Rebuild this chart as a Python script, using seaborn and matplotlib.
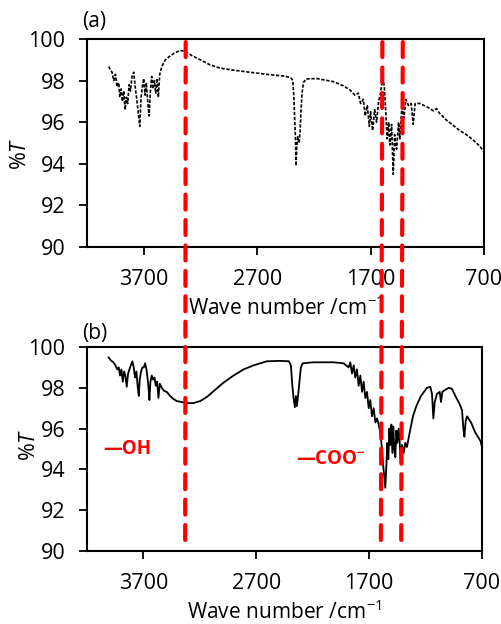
import numpy as np
import pandas as pd
import matplotlib
matplotlib.use("Agg")
import matplotlib.pyplot as plt
from matplotlib.patches import ConnectionPatch
import seaborn as sns

# spectrum (a)
wn_a = [4008, 3993, 3979, 3964, 3949, 3935, 3920, 3911, 3899, 3888, 3876, 3864, 3853, 3841,
        3829, 3817, 3803, 3788, 3773, 3759, 3747, 3735, 3723, 3712, 3700, 3688, 3677, 3665,
        3653, 3641, 3630, 3618, 3606, 3594, 3583, 3571, 3559, 3539, 3509, 3465, 3421, 3377,
        3333, 3275, 3201, 3113, 3025, 2908, 2761, 2615, 2468, 2404, 2386, 2377, 2368, 2362,
        2357, 2351, 2342, 2330, 2321, 2313, 2304, 2292, 2269, 2175, 2028, 1940, 1882, 1838,
        1808, 1788, 1764, 1747, 1729, 1711, 1700, 1682, 1664, 1647, 1629, 1612, 1594, 1579,
        1568, 1553, 1541, 1530, 1515, 1500, 1488, 1471, 1453, 1442, 1424, 1406, 1389, 1365,
        1342, 1324, 1307, 1266, 1207, 1148, 1119, 1095, 1031, 972, 914, 855, 796, 738, 703]
T_a = [98.68, 98.5, 98.4, 98.0, 98.3, 97.7, 97.9, 97.2, 97.6, 97.0, 97.5, 96.6, 97.2, 96.9,
       97.8, 97.5, 98.2, 98.4, 97.6, 97.0, 96.4, 95.8, 97.2, 97.7, 98.1, 97.3, 97.9, 97.0,
       96.3, 97.5, 98.2, 97.6, 98.0, 97.4, 98.1, 97.2, 98.3, 98.7, 99.0, 99.2, 99.35, 99.45,
       99.4, 99.2, 99.0, 98.75, 98.6, 98.5, 98.4, 98.3, 98.22, 98.15, 98.0, 97.3, 96.0, 95.2,
       93.9, 94.8, 95.3, 95.0, 95.6, 96.6, 97.4, 97.9, 98.08, 98.1, 97.95, 97.75, 97.55, 97.3,
       97.4, 96.9, 97.1, 96.3, 96.8, 95.8, 96.5, 95.6, 96.6, 96.0, 97.0, 97.4, 98.2, 97.7,
       96.7, 95.2, 96.0, 94.9, 95.9, 93.5, 95.4, 94.7, 96.0, 95.2, 96.7, 96.2, 97.1, 96.8,
       96.9, 95.9, 96.9, 96.9, 96.75, 96.55, 96.65, 96.45, 96.1, 95.85, 95.6, 95.4, 95.15, 94.85, 94.6]

# spectrum (b)
wn_b = [4010, 3990, 3966, 3948, 3931, 3919, 3907, 3895, 3883, 3871, 3860, 3848, 3836, 3824,
        3812, 3798, 3786, 3774, 3762, 3750, 3741, 3733, 3721, 3709, 3697, 3685, 3673, 3662,
        3653, 3647, 3638, 3626, 3614, 3602, 3591, 3579, 3567, 3555, 3537, 3517, 3493, 3464,
        3434, 3404, 3360, 3316, 3257, 3197, 3138, 3064, 2991, 2902, 2813, 2725, 2606, 2488,
        2411, 2393, 2382, 2370, 2358, 2349, 2340, 2328, 2317, 2305, 2290, 2192, 2015, 1926,
        1882, 1867, 1852, 1837, 1823, 1808, 1793, 1778, 1763, 1749, 1734, 1719, 1704, 1690,
        1675, 1660, 1645, 1630, 1616, 1601, 1586, 1577, 1565, 1557, 1548, 1539, 1530, 1521,
        1512, 1503, 1494, 1486, 1477, 1468, 1459, 1450, 1439, 1430, 1421, 1409, 1394, 1380,
        1365, 1341, 1312, 1282, 1241, 1187, 1158, 1143, 1131, 1119, 1099, 1075, 1063, 1051,
        1025, 995, 966, 936, 898, 877, 865, 856, 844, 832, 797, 759, 714, 700]
T_b = [99.5, 99.35, 99.25, 99.1, 98.9, 99.0, 98.6, 98.9, 98.3, 98.8, 98.6, 98.05, 98.7, 98.9,
       99.1, 99.3, 99.0, 98.5, 98.8, 98.0, 97.6, 98.4, 98.8, 99.0, 99.0, 99.2, 98.9, 98.4,
       97.9, 97.4, 98.3, 98.6, 98.4, 98.5, 98.1, 98.3, 97.5, 98.2, 98.0, 97.85, 97.8, 97.6,
       97.45, 97.35, 97.3, 97.25, 97.25, 97.35, 97.55, 97.9, 98.25, 98.6, 98.9, 99.1, 99.3, 99.32,
       99.3, 99.1, 98.2, 97.5, 97.05, 97.6, 97.1, 97.7, 98.3, 99.0, 99.2, 99.25, 99.25, 99.2,
       99.0, 99.25, 98.7, 99.1, 98.5, 98.9, 98.1, 98.6, 97.8, 98.3, 97.5, 97.8, 97.0, 97.4,
       96.6, 97.0, 96.3, 96.5, 96.2, 95.8, 95.0, 94.3, 93.6, 93.1, 94.1, 95.3, 94.5, 96.0,
       95.2, 96.2, 94.8, 96.1, 95.0, 94.6, 95.9, 95.3, 96.0, 95.4, 94.3, 95.2, 94.8, 95.3,
       95.1, 95.8, 96.6, 97.1, 97.6, 98.0, 98.05, 97.7, 96.5, 97.3, 97.7, 97.8, 97.3, 97.8,
       97.9, 98.0, 97.95, 97.6, 97.2, 96.9, 96.0, 95.6, 96.4, 96.6, 96.3, 95.8, 95.4, 95.1]

# marker lines
peak_lines = [3330, 1596, 1416]
x_ticks = [3700, 2700, 1700, 700]

df_a = pd.DataFrame({'wn': wn_a, 'T': T_a})
df_b = pd.DataFrame({'wn': wn_b, 'T': T_b})

sns.set_style("ticks")
plt.rcParams['font.family'] = ['Open Sans', 'DejaVu Sans']
plt.rcParams['mathtext.fontset'] = 'custom'
plt.rcParams['mathtext.rm'] = 'Open Sans'
plt.rcParams['mathtext.it'] = 'Open Sans:italic'
plt.rcParams['text.color'] = 'black'
plt.rcParams['axes.labelcolor'] = 'black'
plt.rcParams['xtick.color'] = 'black'
plt.rcParams['ytick.color'] = 'black'

fig = plt.figure(figsize=(5.02, 6.24), dpi=100)
ax_a = fig.add_axes([87/502, 1-247/624, 397/502, 208/624])
ax_b = fig.add_axes([87/502, 1-551/624, 395/502, 204/624])

sns.lineplot(data=df_a, x='wn', y='T', sort=False, ax=ax_a, color='black', lw=1.2,
             linestyle=(0, (2, 1)))
sns.lineplot(data=df_b, x='wn', y='T', sort=False, ax=ax_b, color='black', lw=1.3)

for ax, lab in [(ax_a, '(a)'), (ax_b, '(b)')]:
    ax.set_xlim(4200, 700)
    ax.set_ylim(90, 100)
    ax.set_xticks(x_ticks)
    ax.set_yticks(range(90, 101, 2))
    ax.tick_params(labelsize=15.5, length=5.5, width=1.3, pad=10, direction='out')
    for s in ax.spines.values():
        s.set_linewidth(1.5)
        s.set_color('black')
    ax.set_xlabel('Wave number /cm$^{\\mathregular{-1}}$', fontsize=15, labelpad=5)
    ax.set_ylabel('%$\\it{T}$', fontsize=15.5)
    ax.text(-0.013, 1.085 if lab == '(a)' else 1.065, lab, transform=ax.transAxes,
            fontsize=15, va='center', ha='left')

ax_a.yaxis.set_label_coords(-0.141, 0.45)
ax_b.yaxis.set_label_coords(-0.12, 0.52)

ax_b.text(4060, 95.0, '—OH', color='#FF0000', fontsize=13.5, fontweight='bold',
          va='center', ha='left')
ax_b.text(2350, 94.5, '—COO$^{\\mathregular{-}}$', color='#FF0000', fontsize=13.5,
          fontweight='bold', va='center', ha='left')

for x in peak_lines:
    con = ConnectionPatch(xyA=(x, 99.85), coordsA=ax_a.transData,
                          xyB=(x, 90.3), coordsB=ax_b.transData,
                          color='#FF0000', lw=3, linestyle=(0, (3.6, 2.5)), zorder=5)
    fig.add_artist(con)

fig.savefig('out.png', dpi=100)
